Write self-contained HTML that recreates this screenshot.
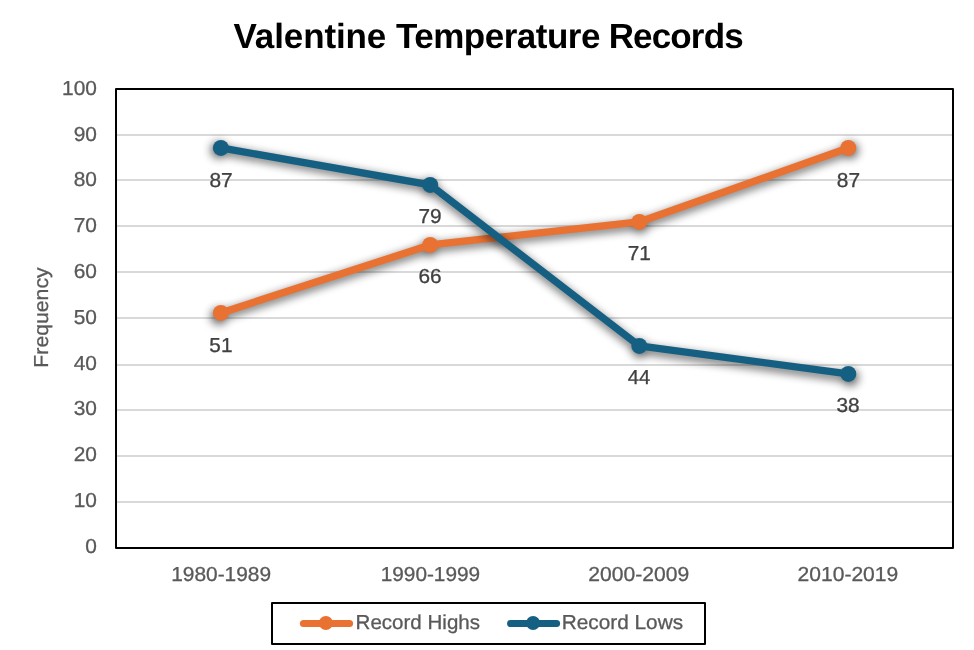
<!DOCTYPE html>
<html lang="en"><head><meta charset="utf-8"><title>Valentine Temperature Records</title>
<style>html,body{margin:0;padding:0;background:#fff;}svg{display:block;}text{font-family:"Liberation Sans",sans-serif;text-rendering:geometricPrecision;}</style></head><body>
<svg width="974" height="650" viewBox="0 0 974 650">
<defs><filter id="blur" x="-10%" y="-10%" width="120%" height="130%"><feGaussianBlur stdDeviation="4.6"/></filter></defs>
<rect width="974" height="650" fill="#fff"/>
<text x="233.5" y="47.6" font-weight="bold" font-size="35" fill="#000"><tspan letter-spacing="-0.11">Valentine</tspan> <tspan letter-spacing="-0.5">Temperature</tspan> <tspan dx="-0.9" letter-spacing="-0.85">Records</tspan></text>
<rect x="116.0" y="501" width="837.0" height="2" fill="#D9D9D9"/>
<rect x="116.0" y="455" width="837.0" height="2" fill="#D9D9D9"/>
<rect x="116.0" y="409" width="837.0" height="2" fill="#D9D9D9"/>
<rect x="116.0" y="364" width="837.0" height="2" fill="#D9D9D9"/>
<rect x="116.0" y="317" width="837.0" height="2" fill="#D9D9D9"/>
<rect x="116.0" y="271" width="837.0" height="2" fill="#D9D9D9"/>
<rect x="116.0" y="225" width="837.0" height="2" fill="#D9D9D9"/>
<rect x="116.0" y="179" width="837.0" height="2" fill="#D9D9D9"/>
<rect x="116.0" y="134" width="837.0" height="2" fill="#D9D9D9"/>
<text transform="translate(96.9 552.85) scale(1.035 1)" text-anchor="end" font-size="20.2" fill="#595959" stroke="#595959" stroke-width="0.3">0</text>
<text transform="translate(96.9 507.05) scale(1.035 1)" text-anchor="end" font-size="20.2" fill="#595959" stroke="#595959" stroke-width="0.3">10</text>
<text transform="translate(96.9 461.25) scale(1.035 1)" text-anchor="end" font-size="20.2" fill="#595959" stroke="#595959" stroke-width="0.3">20</text>
<text transform="translate(96.9 415.45) scale(1.035 1)" text-anchor="end" font-size="20.2" fill="#595959" stroke="#595959" stroke-width="0.3">30</text>
<text transform="translate(96.9 369.65) scale(1.035 1)" text-anchor="end" font-size="20.2" fill="#595959" stroke="#595959" stroke-width="0.3">40</text>
<text transform="translate(96.9 323.85) scale(1.035 1)" text-anchor="end" font-size="20.2" fill="#595959" stroke="#595959" stroke-width="0.3">50</text>
<text transform="translate(96.9 278.05) scale(1.035 1)" text-anchor="end" font-size="20.2" fill="#595959" stroke="#595959" stroke-width="0.3">60</text>
<text transform="translate(96.9 232.25) scale(1.035 1)" text-anchor="end" font-size="20.2" fill="#595959" stroke="#595959" stroke-width="0.3">70</text>
<text transform="translate(96.9 186.45) scale(1.035 1)" text-anchor="end" font-size="20.2" fill="#595959" stroke="#595959" stroke-width="0.3">80</text>
<text transform="translate(96.9 140.65) scale(1.035 1)" text-anchor="end" font-size="20.2" fill="#595959" stroke="#595959" stroke-width="0.3">90</text>
<text transform="translate(96.9 94.85) scale(1.035 1)" text-anchor="end" font-size="20.2" fill="#595959" stroke="#595959" stroke-width="0.3">100</text>
<g filter="url(#blur)" opacity="0.65" transform="translate(534.60 233.35) scale(1.006) translate(-534.60 -230.45)"><polyline points="220.90,312.95 430.20,244.95 639.30,221.95 848.30,147.95" fill="none" stroke="#000" stroke-width="7.3" stroke-linejoin="round" stroke-linecap="round"/><circle cx="220.90" cy="312.95" r="8.0" fill="#000"/><circle cx="430.20" cy="244.95" r="8.0" fill="#000"/><circle cx="639.30" cy="221.95" r="8.0" fill="#000"/><circle cx="848.30" cy="147.95" r="8.0" fill="#000"/></g>
<polyline points="220.90,312.95 430.20,244.95 639.30,221.95 848.30,147.95" fill="none" stroke="#E97132" stroke-width="7.3" stroke-linejoin="round" stroke-linecap="round"/><circle cx="220.90" cy="312.95" r="8.0" fill="#E97132"/><circle cx="430.20" cy="244.95" r="8.0" fill="#E97132"/><circle cx="639.30" cy="221.95" r="8.0" fill="#E97132"/><circle cx="848.30" cy="147.95" r="8.0" fill="#E97132"/>
<g filter="url(#blur)" opacity="0.65" transform="translate(534.60 263.85) scale(1.006) translate(-534.60 -260.95)"><polyline points="220.90,147.95 430.20,184.90 639.30,345.95 848.30,373.95" fill="none" stroke="#000" stroke-width="7.3" stroke-linejoin="round" stroke-linecap="round"/><circle cx="220.90" cy="147.95" r="8.0" fill="#000"/><circle cx="430.20" cy="184.90" r="8.0" fill="#000"/><circle cx="639.30" cy="345.95" r="8.0" fill="#000"/><circle cx="848.30" cy="373.95" r="8.0" fill="#000"/></g>
<polyline points="220.90,147.95 430.20,184.90 639.30,345.95 848.30,373.95" fill="none" stroke="#156082" stroke-width="7.3" stroke-linejoin="round" stroke-linecap="round"/><circle cx="220.90" cy="147.95" r="8.0" fill="#156082"/><circle cx="430.20" cy="184.90" r="8.0" fill="#156082"/><circle cx="639.30" cy="345.95" r="8.0" fill="#156082"/><circle cx="848.30" cy="373.95" r="8.0" fill="#156082"/>
<text transform="translate(220.9 351.8) scale(1.03 1)" text-anchor="middle" font-size="20.2" fill="#404040" stroke="#404040" stroke-width="0.3">51</text>
<text transform="translate(430.1 282.7) scale(1.03 1)" text-anchor="middle" font-size="20.2" fill="#404040" stroke="#404040" stroke-width="0.3">66</text>
<text transform="translate(639.3 259.8) scale(1.03 1)" text-anchor="middle" font-size="20.2" fill="#404040" stroke="#404040" stroke-width="0.3">71</text>
<text transform="translate(848.5 186.75) scale(1.035 1)" text-anchor="middle" font-size="20.2" fill="#404040" stroke="#404040" stroke-width="0.3">87</text>
<text transform="translate(221.1 186.75) scale(1.035 1)" text-anchor="middle" font-size="20.2" fill="#404040" stroke="#404040" stroke-width="0.3">87</text>
<text transform="translate(430.0 222.75) scale(1.03 1)" text-anchor="middle" font-size="20.2" fill="#404040" stroke="#404040" stroke-width="0.3">79</text>
<text transform="translate(639.0 383.8) scale(1.0 1)" text-anchor="middle" font-size="20.2" fill="#404040" stroke="#404040" stroke-width="0.3">44</text>
<text transform="translate(848.1 411.65) scale(1.03 1)" text-anchor="middle" font-size="20.2" fill="#404040" stroke="#404040" stroke-width="0.3">38</text>
<rect x="116.0" y="89.0" width="837.0" height="459.0" fill="none" stroke="#000" stroke-width="2" stroke-linejoin="round"/>
<text transform="translate(221.1 581.2) scale(1.035 1)" text-anchor="middle" font-size="20.2" fill="#595959" stroke="#595959" stroke-width="0.3">1980-1989</text>
<text transform="translate(430.4 581.2) scale(1.03 1)" text-anchor="middle" font-size="20.2" fill="#595959" stroke="#595959" stroke-width="0.3">1990-1999</text>
<text transform="translate(638.8 581.2) scale(1.045 1)" text-anchor="middle" font-size="20.2" fill="#595959" stroke="#595959" stroke-width="0.3">2000-2009</text>
<text transform="translate(847.9 581.2) scale(1.043 1)" text-anchor="middle" font-size="20.2" fill="#595959" stroke="#595959" stroke-width="0.3">2010-2019</text>
<text transform="translate(48 317.5) rotate(-90) scale(1.052 1)" text-anchor="middle" font-size="20.2" fill="#595959" stroke="#595959" stroke-width="0.3">Frequency</text>
<rect x="272" y="603" width="433" height="41" fill="#fff" stroke="#000" stroke-width="2" stroke-linejoin="round"/>
<line x1="303.5" x2="349.5" y1="623.5" y2="623.5" stroke="#E97132" stroke-width="7.2" stroke-linecap="round"/><circle cx="325.9" cy="623.0" r="7" fill="#E97132"/><text transform="translate(355.6 628.9) scale(1.017 1)" text-anchor="start" font-size="20.2" fill="#595959" stroke="#595959" stroke-width="0.3">Record Highs</text>
<line x1="510.70000000000005" x2="556.5" y1="623.5" y2="623.5" stroke="#156082" stroke-width="7.2" stroke-linecap="round"/><circle cx="533.05" cy="623.0" r="7" fill="#156082"/><text transform="translate(561.8 628.9) scale(1.029 1)" text-anchor="start" font-size="20.2" fill="#595959" stroke="#595959" stroke-width="0.3">Record Lows</text>
</svg></body></html>
